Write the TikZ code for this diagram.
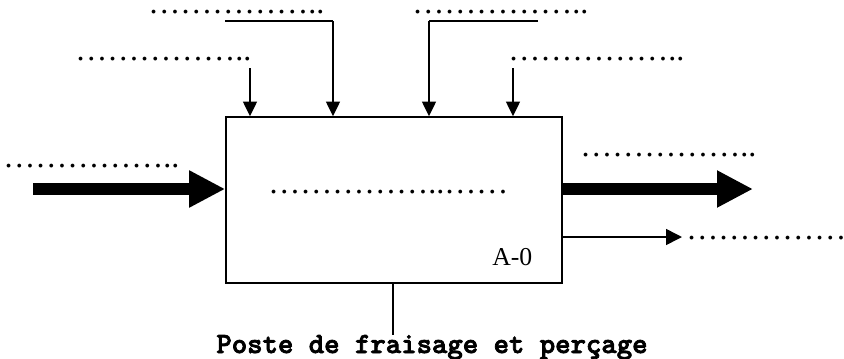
\documentclass[tikz,border=0pt]{standalone}
\usepackage{fontspec}
\setmainfont{Liberation Serif}
\newfontfamily\monob{lmmonolt10-bold.otf}[FakeBold=2.5]
\usetikzlibrary{arrows.meta}

\tikzset{
  trait/.style={line width=1.2pt},
  ctrl/.style={trait, -{Triangle[length=11pt,width=10.5pt]}},
  flux/.style={line width=9pt, -{Triangle[length=27pt,width=26pt]}},
  pointill/.style={inner sep=0pt, anchor=base west, font=\fontsize{24}{24}\selectfont},
}

\begin{document}
\begin{tikzpicture}[x=0.75pt,y=-0.75pt]
        \useasboundingbox (0,0) rectangle (844,358);

        % boite de la fonction
        \node[draw, trait, minimum width=252pt, minimum height=124.5pt, inner sep=0pt] (fct) at (394,200) {};
        \node[inner sep=0pt, anchor=base west, font=\fontsize{19.3}{20}\selectfont] (ref) at (492,265) {A-0};
        \node[pointill] (fonc) at (268,193) {……………..……};

        % donnees de controle
        \node[pointill] (lc1) at (75,60) {……………..};
        \node[pointill] (lc2) at (148,13) {……………..};
        \node[pointill] (lc3) at (412,13) {……………..};
        \node[pointill] (lc4) at (508,60) {……………..};
        \coordinate (c1) at (250,68);
        \coordinate (c2) at (225,21);
        \coordinate (k2) at (333,21);
        \coordinate (c3) at (538,21);
        \coordinate (k3) at (429,21);
        \coordinate (c4) at (513,68);
        \draw[ctrl] (c1) -- (c1 |- fct.north);
        \draw[trait] (c2) -- (k2);
        \draw[ctrl] (k2) -- (k2 |- fct.north);
        \draw[trait] (c3) -- (k3);
        \draw[ctrl] (k3) -- (k3 |- fct.north);
        \draw[ctrl] (c4) -- (c4 |- fct.north);

        % entree
        \node[pointill] (le) at (3,167) {……………..};
        \coordinate (e) at (33,189);
        \draw[flux] (e) -- (e -| fct.west);

        % sorties
        \node[pointill] (ls1) at (580,156) {……………..};
        \coordinate (s1) at (753,189);
        \draw[flux] (s1 -| fct.east) -- (s1);
        \coordinate (s2) at (682,237);
        \draw[trait, -{Triangle[length=12pt,width=12pt]}] (s2 -| fct.east) -- (s2);
        \node[pointill] (ls2) at (686,239) {……………};

        % support
        \coordinate (m) at (393,335);
        \draw[trait] (m |- fct.south) -- (m);
        \node[inner sep=0pt, anchor=base, font=\monob\fontsize{22}{22}\selectfont] (sup) at (432,353) {Poste de fraisage et perçage};
    \end{tikzpicture}
\end{document}
